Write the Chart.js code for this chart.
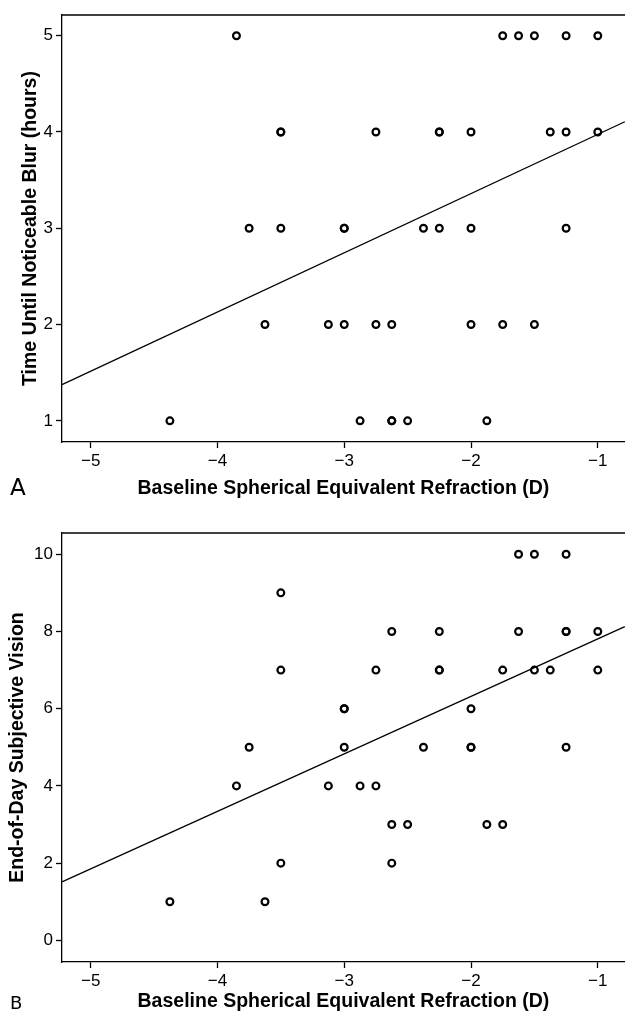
<!DOCTYPE html>
<html>
<head>
<meta charset="utf-8">
<script src="https://cdn.jsdelivr.net/npm/chart.js@4.4.0/dist/chart.umd.min.js"></script>
<style>
    body { margin: 0; background: #fff; overflow: hidden; }
    #wrap { position: relative; width: 625px; height: 1019px; overflow: hidden; }
    canvas { position: absolute; left: 0; }
    #chartA { top: 0; }
    #chartB { top: 500px; }
</style>
</head>
<body>
<div id="wrap">
    <canvas id="chartA" width="631" height="500"></canvas>
    <canvas id="chartB" width="631" height="519"></canvas>
</div>
<script>
// Panel A: baseline refraction (D) vs time until noticeable blur (hours)
const refractionA = [
    -3.85, -1.75, -1.625, -1.5, -1.25, -1.0,
    -3.5, -3.5, -2.75, -2.25, -2.25, -2.0, -1.375, -1.25, -1.0,
    -3.75, -3.5, -3.0, -3.0, -2.375, -2.25, -2.0, -1.25,
    -3.625, -3.125, -3.0, -2.75, -2.625, -2.0, -1.75, -1.5,
    -4.375, -2.875, -2.625, -2.625, -2.5, -1.875
];
const blurHours = [
    5, 5, 5, 5, 5, 5,
    4, 4, 4, 4, 4, 4, 4, 4, 4,
    3, 3, 3, 3, 3, 3, 3, 3,
    2, 2, 2, 2, 2, 2, 2, 2,
    1, 1, 1, 1, 1, 1
];

// Panel B: baseline refraction (D) vs end-of-day subjective vision
const refractionB = [
    -1.625, -1.5, -1.25,
    -3.5,
    -2.625, -2.25, -1.625, -1.25, -1.25, -1.0,
    -3.5, -2.75, -2.25, -2.25, -1.75, -1.5, -1.375, -1.0,
    -3.0, -3.0, -2.0,
    -3.75, -3.0, -2.375, -2.0, -2.0, -1.25,
    -3.85, -3.125, -2.875, -2.75,
    -2.625, -2.5, -1.875, -1.75,
    -3.5, -2.625,
    -4.375, -3.625
];
const visionScore = [
    10, 10, 10,
    9,
    8, 8, 8, 8, 8, 8,
    7, 7, 7, 7, 7, 7, 7, 7,
    6, 6, 6,
    5, 5, 5, 5, 5, 5,
    4, 4, 4, 4,
    3, 3, 3, 3,
    2, 2,
    1, 1
];

// Fitted regression lines
const fitA = { slope: 0.615, intercept: 4.59 };
const fitB = { slope: 1.49, intercept: 9.30 };

// Tick values
const xTicks = [-5, -4, -3, -2, -1];
const yTicksA = [1, 2, 3, 4, 5];
const yTicksB = [0, 2, 4, 6, 8, 10];

const xRange = { min: -5.226, max: -0.787 };

const FONT = "'Liberation Sans', Arial, sans-serif";

// format negatives with a real minus sign
function fmtTick(value) {
    return value < 0 ? '\u2212' + Math.abs(value) : String(value);
}

// draws the top frame line and the panel letter
const framePlugin = {
    id: 'frame',
    afterDraw(chart, args, opts) {
        const ctx = chart.ctx;
        const area = chart.chartArea;
        ctx.save();
        ctx.strokeStyle = '#000';
        ctx.lineWidth = 1.3;
        ctx.beginPath();
        ctx.moveTo(area.left, area.top);
        ctx.lineTo(chart.width, area.top);
        ctx.stroke();
        ctx.fillStyle = '#000';
        ctx.font = opts.size + "px 'DejaVu Sans', sans-serif";
        ctx.textBaseline = 'alphabetic';
        ctx.textAlign = 'left';
        ctx.fillText(opts.text, opts.x, opts.y);
        ctx.restore();
    }
};

function makeChart(canvasId, cfg) {
    const ctx = document.getElementById(canvasId).getContext('2d');
    const points = cfg.xs.map((x, i) => ({ x: x, y: cfg.ys[i] }));
    const linePts = [xRange.min, xRange.max].map(x => ({ x: x, y: cfg.fit.intercept + cfg.fit.slope * x }));

    return new Chart(ctx, {
        type: 'scatter',
        data: {
            datasets: [
                {
                    data: points,
                    pointStyle: 'circle',
                    pointRadius: 3.4,
                    pointBorderWidth: 2.2,
                    pointBorderColor: '#000',
                    pointBackgroundColor: 'rgba(0,0,0,0)',
                    showLine: false
                },
                {
                    data: linePts,
                    showLine: true,
                    borderColor: '#000',
                    borderWidth: 1.3,
                    pointRadius: 0,
                    fill: false
                }
            ]
        },
        options: {
            responsive: false,
            animation: false,
            clip: false,
            layout: {
                padding: { top: cfg.padTop, right: 0, bottom: cfg.padBottom, left: cfg.padLeft }
            },
            plugins: {
                legend: { display: false },
                tooltip: { enabled: false },
                frame: cfg.label
            },
            scales: {
                x: {
                    type: 'linear',
                    min: xRange.min,
                    max: xRange.max,
                    afterBuildTicks: scale => { scale.ticks = xTicks.map(v => ({ value: v })); },
                    afterFit: scale => { scale.height = cfg.xAxisHeight; },
                    grid: {
                        display: true,
                        drawOnChartArea: false,
                        tickLength: 6,
                        tickWidth: 1.3,
                        tickColor: '#000'
                    },
                    border: { display: true, color: '#000', width: 1.3 },
                    ticks: {
                        color: '#000',
                        padding: 3,
                        maxRotation: 0,
                        font: { family: FONT, size: 17 },
                        callback: v => fmtTick(v)
                    },
                    title: {
                        display: true,
                        text: 'Baseline Spherical Equivalent Refraction (D)',
                        color: '#000',
                        padding: 0,
                        font: { family: FONT, size: 19.5, weight: 'bold' }
                    }
                },
                y: {
                    type: 'linear',
                    min: cfg.yMin,
                    max: cfg.yMax,
                    afterBuildTicks: scale => { scale.ticks = cfg.yTicks.map(v => ({ value: v })); },
                    afterFit: scale => { scale.width = 62 - cfg.padLeft; },
                    grid: {
                        display: true,
                        drawOnChartArea: false,
                        tickLength: 6,
                        tickWidth: 1.3,
                        tickColor: '#000'
                    },
                    border: { display: true, color: '#000', width: 1.3 },
                    ticks: {
                        color: '#000',
                        padding: 3,
                        font: { family: FONT, size: 17 },
                        callback: v => fmtTick(v)
                    },
                    title: {
                        display: true,
                        text: cfg.yTitle,
                        color: '#000',
                        padding: 0,
                        font: { family: FONT, size: 19.5, weight: 'bold' }
                    }
                }
            }
        },
        plugins: [framePlugin]
    });
}

document.addEventListener('DOMContentLoaded', function() {
    makeChart('chartA', {
        xs: refractionA,
        ys: blurHours,
        fit: fitA,
        yMin: 0.78,
        yMax: 5.215,
        yTicks: yTicksA,
        yTitle: 'Time Until Noticeable Blur (hours)',
        padTop: 15,
        padBottom: 0,
        padLeft: 19,
        xAxisHeight: 58,
        label: { text: 'A', x: 10, y: 495, size: 23 }
    });

    makeChart('chartB', {
        xs: refractionB,
        ys: visionScore,
        fit: fitB,
        yMin: -0.56,
        yMax: 10.55,
        yTicks: yTicksB,
        yTitle: 'End-of-Day Subjective Vision',
        padTop: 33,
        padBottom: 6,
        padLeft: 6,
        xAxisHeight: 51,
        label: { text: 'B', x: 10, y: 1009 - 500, size: 18 }
    });
});
</script>
</body>
</html>
